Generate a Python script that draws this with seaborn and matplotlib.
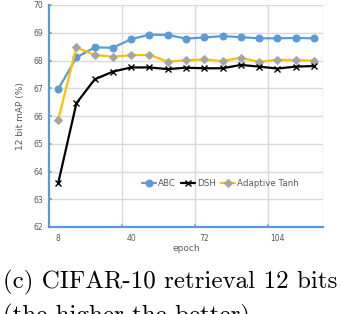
import matplotlib
matplotlib.use("Agg")
import matplotlib.pyplot as plt
import seaborn as sns
import pandas as pd
import numpy as np

epochs = [8, 16, 24, 32, 40, 48, 56, 64, 72, 80, 88, 96, 104, 112, 120]
abc = [66.96, 68.11, 68.47, 68.46, 68.77, 68.93, 68.92, 68.79, 68.83, 68.88, 68.84, 68.80, 68.80, 68.81, 68.80]
dsh = [63.57, 66.46, 67.32, 67.60, 67.75, 67.75, 67.69, 67.74, 67.72, 67.72, 67.84, 67.78, 67.71, 67.78, 67.80]
tanh = [65.86, 68.47, 68.20, 68.14, 68.19, 68.20, 67.96, 68.01, 68.04, 67.98, 68.10, 67.95, 68.03, 68.01, 68.00]
xtick_labels = [8, 40, 72, 104]
yticks = [62, 63, 64, 65, 66, 67, 68, 69, 70]

sns.set_theme(style="white")
plt.rcParams['font.family'] = ['DejaVu Sans']

fig = plt.figure(figsize=(3.42, 3.14), dpi=100)
ax = fig.add_axes([49/342, 1-227/314, (323-49)/342, (227-5)/314])

grid_c = "#D9D9D9"
blue = "#5B9BD5"
text_c = "#595959"

sns.lineplot(x=epochs, y=abc, ax=ax, color=blue, marker="o", markersize=5,
             markeredgecolor=blue, linewidth=1.6, label="ABC", zorder=3)
sns.lineplot(x=epochs, y=dsh, ax=ax, color="black", marker="x", markersize=5,
             markeredgecolor="black", markeredgewidth=1.0, linewidth=1.6, label="DSH", zorder=4)
sns.lineplot(x=epochs, y=tanh, ax=ax, color="#FFC000", marker="D", markersize=4,
             markerfacecolor="#A5A5A5", markeredgecolor="#A5A5A5", linewidth=1.6,
             label="Adaptive Tanh", zorder=3)

ax.set_xlim(4, 124)
ax.set_ylim(62, 70)
for gx in [36, 68, 100, 124]:
    ax.axvline(gx, color=grid_c, lw=1.0, zorder=0)
for gy in yticks[1:]:
    ax.axhline(gy, color=grid_c, lw=1.0, zorder=0)

ax.set_yticks(yticks)
ax.set_yticklabels([str(v) for v in yticks])
ax.set_xticks(xtick_labels)
ax.set_xticklabels([str(v) for v in xtick_labels])
ax.tick_params(axis="both", length=0, labelsize=5.5, labelcolor=text_c, pad=4)
ax.tick_params(axis="x", pad=5)
for gy in yticks[1:]:
    ax.plot([4, 4.8], [gy, gy], color=blue, lw=1.2, clip_on=False, zorder=5)
for gx in [36, 68, 100]:
    ax.plot([gx, gx], [62, 62.07], color=blue, lw=1.2, clip_on=False, zorder=5)

for s in ["top", "right"]:
    ax.spines[s].set_visible(False)
ax.spines["left"].set_color(blue)
ax.spines["left"].set_linewidth(1.6)
ax.spines["bottom"].set_color(blue)
ax.spines["bottom"].set_linewidth(1.6)

ax.set_xlabel("epoch", fontsize=6.5, color=text_c, labelpad=1)
ax.set_ylabel("12 bit mAP (%)", fontsize=6.5, color=text_c, labelpad=6)

ax.legend(loc="center", bbox_to_anchor=(0.625, 0.195), ncol=3, frameon=False,
          fontsize=6.3, labelcolor=text_c, handlelength=1.6, handletextpad=0.2,
          columnspacing=0.6)

fig.text(3/342, 1-288/314, "(c) CIFAR-10 retrieval 12 bits", fontsize=18,
         family="cmr10", color="black", ha="left", va="baseline")
fig.text(3/342, 1-322/314, "(the higher the better)", fontsize=18,
         family="cmr10", color="black", ha="left", va="baseline")

fig.savefig("out.png", dpi=100)
